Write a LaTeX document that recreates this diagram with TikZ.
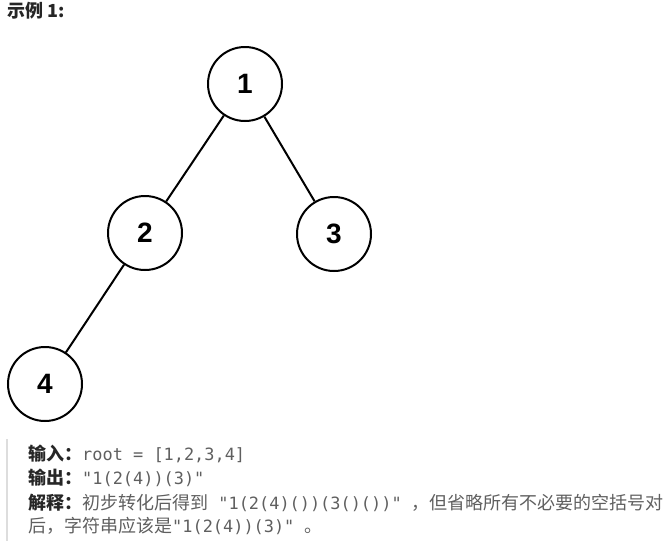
\documentclass[tikz,border=0pt]{standalone}
\usepackage{fontspec}
\setmainfont{Liberation Sans}
\setmonofont{DejaVu Sans Mono}[Scale=0.94]
\newfontfamily\cjk{Noto Sans CJK SC}
\usetikzlibrary{arrows,shapes}
\definecolor{txtgray}{HTML}{5F5F5F}
\definecolor{lblblack}{HTML}{262626}
\definecolor{bargray}{HTML}{DDDDDD}
\tikzstyle{tnode}=[circle,draw=black,line width=2pt,minimum size=74pt,inner sep=0pt,font=\fontsize{28}{28}\selectfont\bfseries]
\tikzstyle{tedge}=[line width=2pt]
\tikzstyle{tline}=[anchor=base west,inner sep=0pt,color=txtgray,font=\fontsize{18}{18}\selectfont\cjk]

\begin{document}
\begin{tikzpicture}[x=1pt,y=-1pt]
\useasboundingbox (0,0) rectangle (668,541);
\node[anchor=base west,inner sep=0pt,color=lblblack,font=\fontsize{18}{18}\selectfont\cjk\bfseries] (title) at (7,17) {示例 1:};
\node[tnode] (n1) at (245,84) {1};
\node[tnode] (n2) at (145,233) {2};
\node[tnode] (n3) at (334,234) {3};
\node[tnode] (n4) at (45,384) {4};
\draw[tedge](n1)--(n2);\draw[tedge](n1)--(n3);\draw[tedge](n2)--(n4);
\fill[bargray] (6,439) rectangle (8,541);
\node[tline] (in) at (28,460) {{\color{lblblack}\bfseries 输入：}\ttfamily root = [1,2,3,4]};
\node[tline] (out) at (28,484) {{\color{lblblack}\bfseries 输出：}\ttfamily "1(2(4))(3)"};
\node[tline] (exa) at (28,509) {{\color{lblblack}\bfseries 解释：}初步转化后得到{\ttfamily\ "1(2(4)())(3()())"\ }，但省略所有不必要的空括号对};
\node[tline] (exb) at (28,532) {后，字符串应该是{\ttfamily "1(2(4))(3)"\ }。};
\end{tikzpicture}
\end{document}
